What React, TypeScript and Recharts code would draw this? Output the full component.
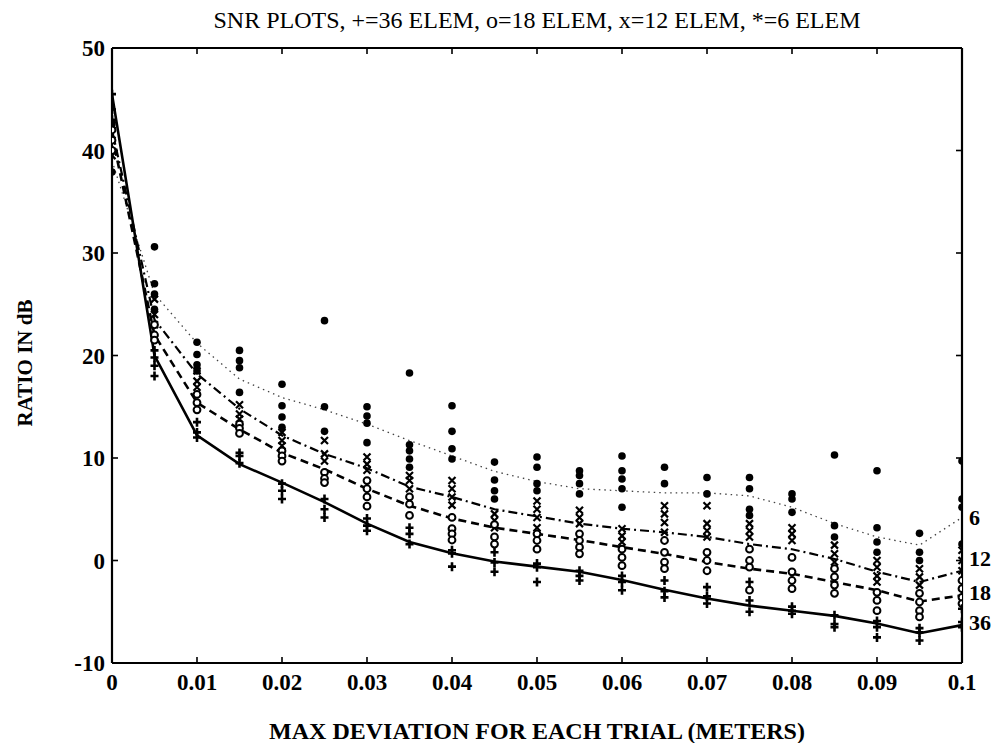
import React from 'react'
import { ComposedChart, Line, Scatter, XAxis, YAxis } from 'recharts'

const X_VALUES = [
  0, 0.005, 0.01, 0.015, 0.02, 0.025, 0.03, 0.035, 0.04, 0.045, 0.05,
  0.055, 0.06, 0.065, 0.07, 0.075, 0.08, 0.085, 0.09, 0.095, 0.1,
]
const X_TICKS = [0, 0.01, 0.02, 0.03, 0.04, 0.05, 0.06, 0.07, 0.08, 0.09, 0.1]
const Y_TICKS = [-10, 0, 10, 20, 30, 40, 50]

// mean curves (one value per x)
const MEAN_36 = [45.5, 20, 12.2, 9.4, 7.6, 5.7, 3.6, 1.8, 0.7, -0.1, -0.6, -1.1, -1.9, -2.85, -3.7, -4.4, -4.9, -5.4, -6.15, -7.1, -6.3]
const MEAN_18 = [41.5, 22, 15.4, 12.8, 10.5, 8.9, 7.0, 5.35, 4.1, 3.2, 2.6, 2.0, 1.3, 0.65, -0.15, -0.8, -1.3, -2.1, -2.9, -4.0, -3.4]
const MEAN_12 = [42, 23.5, 18.2, 14.8, 12.2, 10.4, 9.0, 7.2, 6.2, 5.0, 4.3, 3.6, 3.1, 2.75, 2.3, 1.6, 1.1, 0.15, -1.1, -2.1, -1.0]
const MEAN_6 = [39, 26, 21.2, 17.7, 15.9, 14.7, 13.3, 11.7, 10.2, 8.7, 7.7, 7.0, 6.8, 6.6, 6.6, 6.3, 5.2, 3.6, 2.3, 1.5, 4.2]

// individual trials (one list per x)
const PTS_6 = [
  [42.6, 40, 37.9], [30.6, 27, 26, 24.5], [21.3, 20.1, 19.1, 18.5], [20.5, 19.5, 18.8, 16.4],
  [17.2, 15.1, 14.0, 13.0], [23.4, 15.0, 12.6], [15.0, 14.1, 13.4, 11.5], [18.3, 11.3, 10.7, 9.9, 9.1],
  [15.1, 12.6, 10.9, 9.9], [9.6, 7.85, 6.8, 6.0], [10.1, 9.1, 7.5, 6.8], [8.75, 8.3, 7.5, 6.5],
  [10.2, 8.75, 7.95, 7.0, 5.2], [9.1, 7.5], [8.1, 6.5], [8.1, 7.0, 5.0, 4.4], [6.5, 6.0, 4.7],
  [10.3, 3.4, 2.3], [8.75, 3.2, 1.8, 0.8], [2.65, 0.8, 0.0], [9.7, 6.0, 5.2, 1.6],
]
const PTS_12 = [
  [42.5, 41, 39.5], [25.5, 24, 23], [18.5, 17.5, 16.9], [15.2, 14.3, 13.8], [12.5, 11.7, 11.2],
  [11.7, 10.4, 9.7], [10.1, 9.4, 8.8], [8.3, 7.8, 7.0], [7.8, 7.0, 6.2, 5.4], [4.55, 3.9, 3.2],
  [5.8, 5.0, 4.2, 3.2], [4.9, 4.2, 3.6], [3.1, 2.4, 1.8], [5.35, 4.55, 3.7, 2.75], [5.35, 3.6, 2.9, 2.3],
  [3.6, 2.9, 2.3], [3.2, 2.6, 1.95], [1.5, 0.65, -0.15], [0.0, -0.65, -1.5, -2.1], [-0.8, -1.6, -2.4],
  [1.0, 0.0, -1.0],
]
const PTS_18 = [
  [42, 41, 40], [23, 22, 21.5], [16.2, 15.4, 14.7], [13.3, 12.9, 12.4], [10.7, 10.2, 9.7],
  [8.6, 8.0, 7.6], [7.8, 7.0, 6.2, 5.3], [6.2, 5.5, 4.4], [4.2, 3.1, 2.6, 2.0], [3.5, 2.3, 1.6],
  [2.6, 1.95, 1.1], [2.6, 1.95, 1.3, 0.65], [1.1, 0.3, -0.5], [1.95, 0.8, -0.15, -0.8], [0.8, 0.0, -1.0],
  [1.1, 0.0, -0.65, -2.9], [0.3, -1.1, -1.95, -2.75], [-0.8, -1.6, -2.4, -3.2], [-3.1, -3.9, -4.9],
  [-3.2, -4.05, -4.9, -5.5], [-1.95, -2.75, -3.6, -4.2],
]
const PTS_36 = [
  [45.5, 44, 43], [20.5, 19.8, 19, 18], [13.5, 12.5, 12.0], [10.5, 10.2, 9.5], [7.5, 6.8, 6.0],
  [6.0, 5.0, 4.2], [4.1, 3.4, 2.9], [3.2, 2.6, 1.6], [1.0, 0.7, -0.6], [0.8, -0.2, -1.1],
  [-0.3, -0.65, -2.1], [-1.0, -1.5, -1.95], [-1.5, -2.1, -2.9], [-1.95, -3.0, -3.6], [-2.6, -3.5, -4.2],
  [-2.1, -3.9, -5.0], [-4.5, -4.9, -5.2], [-5.35, -6.2, -6.5], [-5.9, -6.5, -7.5], [-6.6, -7.0, -7.8],
  [-4.7, -6.0, -6.5],
]

const FONT = '"Liberation Serif", "DejaVu Serif", serif'

const lineData = X_VALUES.map((x, i) => ({
  x,
  m36: MEAN_36[i],
  m18: MEAN_18[i],
  m12: MEAN_12[i],
  m6: MEAN_6[i],
}))

const toPoints = (pts: number[][]) =>
  X_VALUES.flatMap((x, i) => pts[i].map((y) => ({ x, y })))

const DotMark = (p: any) => <circle cx={p.cx} cy={p.cy} r={3.8} fill="#000" />
const CircleMark = (p: any) => (
  <circle cx={p.cx} cy={p.cy} r={3.4} fill="#fff" stroke="#000" strokeWidth={2} />
)
const CrossMark = (p: any) => (
  <path
    d={`M${p.cx - 3.5},${p.cy - 3.5}L${p.cx + 3.5},${p.cy + 3.5}M${p.cx - 3.5},${p.cy + 3.5}L${p.cx + 3.5},${p.cy - 3.5}`}
    stroke="#000"
    strokeWidth={2.2}
  />
)
const PlusMark = (p: any) => (
  <path
    d={`M${p.cx},${p.cy - 4.5}L${p.cx},${p.cy + 4.5}M${p.cx - 4},${p.cy}L${p.cx + 4},${p.cy}`}
    stroke="#000"
    strokeWidth={2.6}
  />
)

const endLabel = (text: string, dy: number) => (props: any) => {
  if (props.index !== X_VALUES.length - 1) return <g />
  return (
    <text
      x={props.x + 7}
      y={props.y + dy}
      fontFamily={FONT}
      fontWeight="bold"
      fontSize={22}
      fill="#000"
      dominantBaseline="central"
    >
      {text}
    </text>
  )
}

const tickStyle = { fontFamily: FONT, fontWeight: 'bold', fontSize: 23, fill: '#000' }
const axisLine = { stroke: '#000', strokeWidth: 2.2 }
const tickLine = { stroke: '#000', strokeWidth: 1.6 }
const fmtX = (v: number) => (v === 0 ? '0' : String(+v.toFixed(2)))

export default function App() {
  return (
    <div style={{ position: 'relative', width: 991, height: 735 }}>
      <ComposedChart
        width={991}
        height={735}
        data={lineData}
        margin={{ top: 39, right: 36, left: 44, bottom: 30 }}
      >
        <XAxis
          xAxisId={0}
          dataKey="x"
          type="number"
          domain={[0, 0.1]}
          ticks={X_TICKS}
          tickFormatter={fmtX}
          tick={tickStyle}
          tickSize={-6}
          tickMargin={17}
          axisLine={axisLine}
          tickLine={tickLine}
          height={50}
          allowDataOverflow
        />
        <XAxis
          xAxisId={1}
          dataKey="x"
          orientation="top"
          type="number"
          domain={[0, 0.1]}
          ticks={X_TICKS}
          tickFormatter={() => ''}
          tickSize={-6}
          axisLine={axisLine}
          tickLine={tickLine}
          height={1}
          allowDataOverflow
        />
        <YAxis
          yAxisId={0}
          type="number"
          domain={[-10, 50]}
          ticks={Y_TICKS}
          tick={tickStyle}
          tickSize={-6}
          tickMargin={13}
          axisLine={axisLine}
          tickLine={tickLine}
          width={60}
          allowDataOverflow
        />
        <YAxis
          yAxisId={1}
          orientation="right"
          type="number"
          domain={[-10, 50]}
          ticks={Y_TICKS}
          tickFormatter={() => ''}
          tickSize={-6}
          axisLine={axisLine}
          tickLine={tickLine}
          width={1}
          allowDataOverflow
        />
        {/* invisible series so the top and right axes get drawn */}
        <Line
          xAxisId={1}
          yAxisId={1}
          dataKey="m36"
          stroke="none"
          dot={false}
          activeDot={false}
          isAnimationActive={false}
        />
        <Scatter data={toPoints(PTS_6)} dataKey="y" shape={DotMark} isAnimationActive={false} />
        <Scatter data={toPoints(PTS_12)} dataKey="y" shape={CrossMark} isAnimationActive={false} />
        <Scatter data={toPoints(PTS_18)} dataKey="y" shape={CircleMark} isAnimationActive={false} />
        <Scatter data={toPoints(PTS_36)} dataKey="y" shape={PlusMark} isAnimationActive={false} />
        <Line
          dataKey="m6"
          stroke="#444"
          strokeWidth={1.3}
          strokeDasharray="1.5 4"
          dot={false}
          activeDot={false}
          label={endLabel('6', 0)}
          isAnimationActive={false}
        />
        <Line
          dataKey="m12"
          stroke="#000"
          strokeWidth={2.2}
          strokeDasharray="9 4 2 4"
          dot={false}
          activeDot={false}
          label={endLabel('12', -12)}
          isAnimationActive={false}
        />
        <Line
          dataKey="m18"
          stroke="#000"
          strokeWidth={2.6}
          strokeDasharray="8 5"
          dot={false}
          activeDot={false}
          label={endLabel('18', -3)}
          isAnimationActive={false}
        />
        <Line
          dataKey="m36"
          stroke="#000"
          strokeWidth={2.6}
          dot={false}
          activeDot={false}
          label={endLabel('36', -3)}
          isAnimationActive={false}
        />
      </ComposedChart>
      <div
        style={{
          position: 'absolute',
          top: -1,
          left: 179,
          width: 700,
          textAlign: 'center',
          fontFamily: FONT,
          fontSize: 24,
          lineHeight: '27px',
          whiteSpace: 'nowrap',
        }}
      >
        SNR PLOTS, +=36 ELEM, o=18 ELEM, x=12 ELEM, *=6 ELEM
      </div>
      <div
        style={{
          position: 'absolute',
          top: 710,
          left: 229,
          width: 600,
          textAlign: 'center',
          fontFamily: FONT,
          fontWeight: 'bold',
          fontSize: 24,
          lineHeight: '27px',
          whiteSpace: 'nowrap',
        }}
      >
        MAX DEVIATION FOR EACH TRIAL (METERS)
      </div>
      <div
        style={{
          position: 'absolute',
          top: 343,
          left: -83,
          width: 200,
          textAlign: 'center',
          fontFamily: FONT,
          fontWeight: 'bold',
          fontSize: 21,
          lineHeight: '24px',
          whiteSpace: 'nowrap',
          transform: 'rotate(-90deg)',
        }}
      >
        RATIO IN dB
      </div>
    </div>
  )
}
